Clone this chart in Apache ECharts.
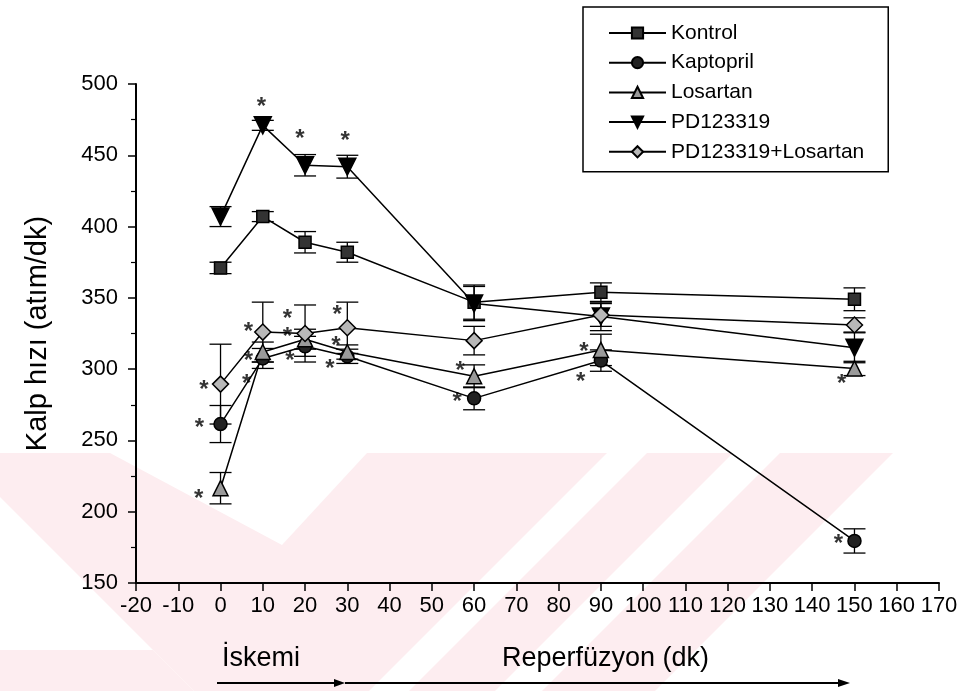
<!DOCTYPE html>
<html>
<head>
<meta charset="utf-8">
<script src="https://cdn.jsdelivr.net/npm/echarts@6/dist/echarts.min.js"></script>
<style>
html,body{margin:0;padding:0;background:#fff;}
#chart{width:967px;height:691px;}
</style>
</head>
<body>
<div id="chart"></div>
<script>
// ---- data ----
const timePoints = [0, 10, 20, 30, 60, 90, 150];
const kontrol      = [371, 407, 389, 382, 347, 354, 349];
const kontrolErr   = [4, 3.5, 7.5, 7, 12, 6.5, 8];
const kaptopril    = [261.5, 307.5, 316, 309, 279.5, 306, 179.5];
const kaptoprilErr = [13, 7, 7, 5, 8, 7.5, 8.5];
const losartan     = [216.5, 312, 321, 312, 295, 313.5, 300.5];
const losartanErr  = [11, 7, 7, 5, 8, 11, 5];
const pd123319     = [407, 471, 443, 442, 346, 337, 315];
const pd123319Err  = [7, 3.5, 7.5, 8, 12, 10, 10.5];
const pdLosartan   = [289.5, 326, 325, 329, 320, 338, 331];
const pdLosartanErr= [28, 21, 20, 18, 10, 8, 5];
// significance asterisks [time, value]
const stars = [
  [9.7, 487.5], [18.8, 465.4], [29.5, 464],
  [6.6, 329.7], [15.8, 339.1], [15.8, 326.2], [27.6, 342], [27.3, 320.4],
  [16.4, 309.9], [25.9, 304], [6.6, 309.9], [6.2, 293.5],
  [-3.9, 289.5], [-5, 263], [-5.2, 213.2],
  [56.7, 302.9], [56, 280.6], [86, 316.2], [85.2, 295.2],
  [147, 293.5], [146.2, 181.3]
];
const xTicks = {min: -20, max: 170, interval: 10};
const yTicks = {min: 150, max: 500, interval: 50};
const seriesNames = ['Kontrol', 'Kaptopril', 'Losartan', 'PD123319', 'PD123319+Losartan'];

const FONT = 'Liberation Sans, Arial, sans-serif';

function pairs(vals){ return timePoints.map((t,i)=>[t, vals[i]]); }
function errData(vals, errs){ return timePoints.map((t,i)=>[t, vals[i]-errs[i], vals[i]+errs[i]]); }

function errSeries(name, vals, errs){
  return {
    type: 'custom', name: name + ' err', z: 1, silent: true,
    data: errData(vals, errs),
    renderItem: function(params, api){
      const x = api.value(0), lo = api.value(1), hi = api.value(2);
      const p1 = api.coord([x, hi]), p2 = api.coord([x, lo]);
      const w = 11;
      const st = {stroke: '#000', lineWidth: 1.3};
      return {type: 'group', children: [
        {type: 'line', shape: {x1: p1[0], y1: p1[1], x2: p2[0], y2: p2[1]}, style: st},
        {type: 'line', shape: {x1: p1[0]-w, y1: p1[1], x2: p1[0]+w, y2: p1[1]}, style: st},
        {type: 'line', shape: {x1: p2[0]-w, y1: p2[1], x2: p2[0]+w, y2: p2[1]}, style: st}
      ]};
    }
  };
}

function lineSeries(name, vals, symbol, size, fill, rotate){
  return {
    type: 'line', name: name, z: 3,
    data: pairs(vals),
    symbol: symbol, symbolSize: size, symbolRotate: rotate || 0,
    showSymbol: true,
    lineStyle: {color: '#000', width: 1.5},
    itemStyle: {color: fill, borderColor: '#000', borderWidth: 1.5},
    emphasis: {disabled: true}
  };
}

const chart = echarts.init(document.getElementById('chart'), null, {renderer: 'canvas'});

const WM = '#fdedf0';
const option = {
  animation: false,
  backgroundColor: '#fff',
  textStyle: {fontFamily: FONT},
  grid: {left: 136, right: 28, top: 84, bottom: 108, containLabel: false},
  legend: {
    data: seriesNames,
    orient: 'vertical',
    left: 583, top: 7,
    padding: [15, 24, 9, 25],
    itemWidth: 57, itemHeight: 14, itemGap: 7.7,
    borderColor: '#000', borderWidth: 1.5,
    textStyle: {fontSize: 21, color: '#000', fontFamily: FONT, lineHeight: 22},
    selectedMode: false
  },
  xAxis: {
    type: 'value', min: xTicks.min, max: xTicks.max, interval: xTicks.interval,
    axisLine: {onZero: false, lineStyle: {color: '#000', width: 2}},
    axisTick: {show: true, length: 8, lineStyle: {color: '#000', width: 1.5}},
    axisLabel: {color: '#000', fontSize: 22, fontFamily: FONT, margin: 12},
    splitLine: {show: false}
  },
  yAxis: {
    type: 'value', min: yTicks.min, max: yTicks.max, interval: yTicks.interval,
    name: 'Kalp hızı (atım/dk)', nameLocation: 'middle', nameGap: 84,
    nameTextStyle: {fontSize: 29, color: '#000', fontFamily: FONT},
    axisLine: {show: true, onZero: false, lineStyle: {color: '#000', width: 2}},
    axisTick: {show: true, length: 8, lineStyle: {color: '#000', width: 1.5}},
    minorTick: {show: true, splitNumber: 2, length: 5, lineStyle: {color: '#000', width: 1.2}},
    axisLabel: {color: '#000', fontSize: 22, fontFamily: FONT, margin: 18},
    splitLine: {show: false}
  },
  graphic: [
    // background watermark
    {type: 'polygon', z: -10, silent: true, shape: {points: [[0,453],[110,453],[282,545],[367,453],[607,453],[369,691],[194,691],[0,497]]}, style: {fill: WM}},
    {type: 'polygon', z: -10, silent: true, shape: {points: [[0,650],[153,650],[194,691],[0,691]]}, style: {fill: WM}},
    {type: 'polygon', z: -10, silent: true, shape: {points: [[647,453],[733,453],[495,691],[409,691]]}, style: {fill: WM}},
    {type: 'polygon', z: -10, silent: true, shape: {points: [[780,453],[893,453],[655,691],[542,691]]}, style: {fill: WM}},
    // annotations below the axis
    {type: 'text', left: 222, top: 645, style: {text: 'İskemi', fontSize: 27, fontFamily: FONT, fill: '#000'}},
    {type: 'text', left: 502, top: 645, style: {text: 'Reperfüzyon (dk)', fontSize: 27, fontFamily: FONT, fill: '#000'}},
    {type: 'line', shape: {x1: 217, y1: 683, x2: 336, y2: 683}, style: {stroke: '#000', lineWidth: 2}},
    {type: 'polygon', shape: {points: [[345,683],[334,679],[334,687]]}, style: {fill: '#000'}},
    {type: 'line', shape: {x1: 345, y1: 683, x2: 840, y2: 683}, style: {stroke: '#000', lineWidth: 2}},
    {type: 'polygon', shape: {points: [[850,683],[838,679],[838,687]]}, style: {fill: '#000'}}
  ],
  series: [
    errSeries('Kontrol', kontrol, kontrolErr),
    errSeries('Kaptopril', kaptopril, kaptoprilErr),
    errSeries('Losartan', losartan, losartanErr),
    errSeries('PD123319', pd123319, pd123319Err),
    errSeries('PD123319+Losartan', pdLosartan, pdLosartanErr),
    lineSeries('Kontrol', kontrol, 'rect', 12, '#333'),
    lineSeries('Kaptopril', kaptopril, 'circle', 13, '#222'),
    lineSeries('Losartan', losartan, 'triangle', 15, '#9a9a9a'),
    lineSeries('PD123319', pd123319, 'triangle', 17, '#000', 180),
    lineSeries('PD123319+Losartan', pdLosartan, 'diamond', 16, '#b8b8b8'),
    {
      type: 'scatter', name: 'stars', z: 4, silent: true,
      data: stars, symbolSize: 1, itemStyle: {color: 'rgba(0,0,0,0)'},
      label: {show: true, position: 'inside', formatter: '*', fontSize: 24, fontWeight: 'bold', color: '#000', fontFamily: FONT, offset: [0, 6]}
    }
  ]
};
chart.setOption(option);
</script>
</body>
</html>
